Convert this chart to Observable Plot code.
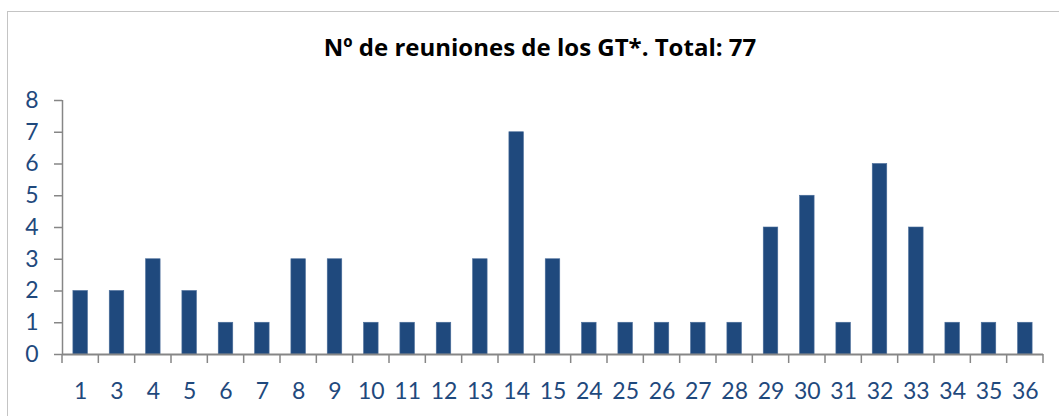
<!DOCTYPE html>
<html>
<head>
<meta charset="utf-8">
<script src="https://cdn.jsdelivr.net/npm/d3@7"></script>
<script src="https://cdn.jsdelivr.net/npm/@observablehq/plot@0.6"></script>
<style>
  html, body { margin: 0; padding: 0; background: #fff; }
  #wrap { position: relative; width: 1059px; height: 416px; overflow: hidden; font-family: Lato, "Open Sans", sans-serif; }
  #frame { position: absolute; left: 7px; top: 11px; width: 1100px; height: 420px; border: 1px solid #c4c4c4; box-sizing: border-box; }
  #title { position: absolute; left: 0; width: 1080px; top: 30px; text-align: center; font-family: "Open Sans", sans-serif; font-weight: bold; font-size: 24px; color: #000; }
  #chart { position: absolute; left: 0; top: 0; }
</style>
</head>
<body>
<div id="wrap">
  <div id="frame"></div>
  <div id="title">Nº de reuniones de los GT*. Total: 77</div>
  <div id="chart"></div>
</div>
<script>
const categories = ["1","3","4","5","6","7","8","9","10","11","12","13","14","15","24","25","26","27","28","29","30","31","32","33","34","35","36"];
const values = [2,2,3,2,1,1,3,3,1,1,1,3,7,3,1,1,1,1,1,4,5,1,6,4,1,1,1];
const yTicks = [0,1,2,3,4,5,6,7,8];

const data = categories.map((c, i) => ({cat: c, value: values[i]}));

const W = 1059, H = 416, ML = 62, MR = 16, MT = 100, MB = 62;
const step = (W - ML - MR) / categories.length;
const axisColor = "#868686";
const labelColor = "#1F497D";
const font = "Lato, 'Open Sans', sans-serif";

const chart = Plot.plot({
  width: W,
  height: H,
  marginLeft: ML,
  marginRight: MR,
  marginTop: MT,
  marginBottom: MB,
  style: { fontFamily: font, background: "transparent", overflow: "visible" },
  x: { domain: categories, paddingInner: 0.6, paddingOuter: 0.3, round: false, label: null },
  y: { domain: [0, 8], label: null },
  marks: [
    Plot.barY(data, { x: "cat", y: "value", fill: "#1F497D", stroke: "#4a6d9a", strokeWidth: 0.6 }),
    // y axis line at the left edge of the first band
    Plot.ruleX([categories[0]], { x: d => d, dx: -step / 2, y1: 0, y2: 8, stroke: axisColor, strokeWidth: 1.5 }),
    Plot.axisY(yTicks, { tickSize: 8, tickPadding: 16, stroke: axisColor, strokeWidth: 1.5, fill: labelColor, fontSize: 23, label: null }),
    // x axis baseline
    Plot.ruleY([0], { stroke: axisColor, strokeWidth: 2 }),
    // x labels
    Plot.axisX({ tickSize: 0, tickPadding: 28, fill: labelColor, fontSize: 23, label: null })
  ]
});

// boundary ticks of the x axis, placed with the plot's own scales
const xs = chart.scale("x"), ys = chart.scale("y");
const gap = (xs.step - xs.bandwidth) / 2;
const bounds = categories.map(c => xs.apply(c) - gap);
bounds.push(xs.apply(categories[categories.length - 1]) + xs.bandwidth + gap);
const y0 = ys.apply(0);
d3.select(chart).append("g")
  .attr("stroke", axisColor)
  .attr("stroke-width", 1.5)
  .selectAll("line")
  .data(bounds)
  .join("line")
  .attr("x1", d => d).attr("x2", d => d)
  .attr("y1", y0).attr("y2", y0 + 9);

document.getElementById("chart").appendChild(chart);
</script>
</body>
</html>
